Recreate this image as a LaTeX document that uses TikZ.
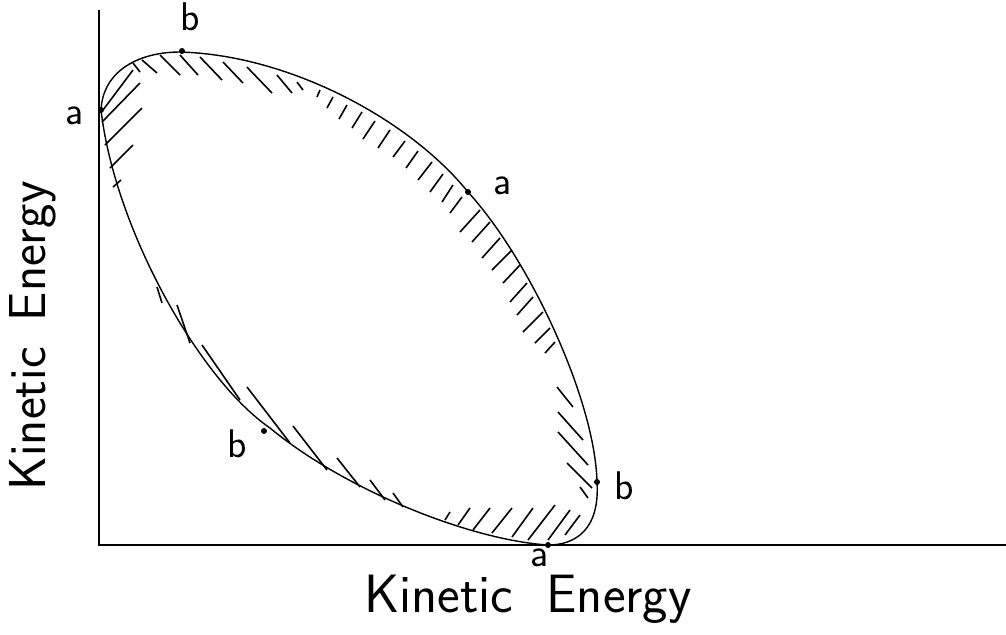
\documentclass[tikz,border=0pt]{standalone}
\usetikzlibrary{positioning}

\begin{document}
\begin{tikzpicture}[
  x=0.5pt, y=-0.5pt,
  axis/.style={line width=1pt},
  orbit/.style={line width=0.7pt},
  hatch/.style={line width=0.8pt},
  pt/.style={circle, fill, inner sep=0pt, minimum size=3pt},
  lbl/.style={font=\sffamily\fontsize{20}{20}\selectfont, inner sep=0pt},
  axlabel/.style={font=\sffamily\fontsize{27}{27}\selectfont, inner sep=0pt}]
\useasboundingbox (0,0) rectangle (1006,634);
\draw[axis] (99,10) -- (99,545) -- (1006,545);
\coordinate (ka) at (101,110);
\coordinate (kb) at (180,52);
\coordinate (kc) at (468,192);
\coordinate (kd) at (597,482);
\coordinate (ke) at (548,545);
\coordinate (kf) at (270,428);
\draw[orbit] (ka) .. controls (103,70) and (140,52) .. (kb)
  .. controls (290,55) and (410,120) .. (kc)
  .. controls (530,260) and (595,400) .. (kd)
  .. controls (600,530) and (575,545) .. (ke)
  .. controls (470,540) and (345,490) .. (kf)
  .. controls (200,380) and (115,230) .. (ka);
\foreach \xa/\ya/\xb/\yb in {
  103/110/133/70, 102/122/140/83, 105/145/142/108, 110/168/133/145, 113/187/121/180,
  133/63/140/72, 142/60/157/73, 160/55/180/75, 180/55/198/75, 200/57/222/80,
  223/62/243/83, 247/67/272/93, 277/75/292/93, 297/82/303/90,
  320/90/317/97, 333/97/327/108, 347/105/339/119, 362/112/352/128,
  375/121/363/139, 390/130/378/148, 405/141/393/157, 418/151/406/168,
  432/162/418/180, 443/174/430/192, 453/185/442/202, 462/197/450/213,
  480/210/460/232, 490/222/472/242, 500/238/482/258, 512/250/492/270,
  520/265/503/283, 527/283/510/302, 533/297/517/315, 543/312/523/332,
  550/328/535/343, 555/342/545/353,
  557/387/573/407, 558/412/583/440, 558/432/588/465, 567/463/592/488, 580/487/588/498,
  445/520/450/512, 458/525/470/508, 473/530/490/508, 492/533/512/508,
  512/537/533/508, 528/540/555/505, 548/540/570/510, 565/535/580/515,
  157/287/162/303, 177/305/190/343, 202/345/240/400, 247/387/290/443,
  293/426/327/470, 337/458/360/487, 370/480/385/500, 393/493/403/507}
  \draw[hatch] (\xa,\ya) -- (\xb,\yb);
\node[pt] (aleft) at (ka) {};
\node[pt] (btop) at (182,51) {};
\node[pt] (aright) at (kc) {};
\node[pt] (bright) at (kd) {};
\node[pt] (abottom) at (ke) {};
\node[pt] (blow) at (264,431) {};
\node[lbl, left=7pt of aleft, yshift=-3pt] (la1) {a};
\node[lbl, above=8pt of btop, xshift=4pt] (lb1) {b};
\node[lbl, right=11pt of aright, yshift=3pt] (la2) {a};
\node[lbl, right=7pt of bright, yshift=-2pt] (lb2) {b};
\node[lbl, below=0pt of abottom, xshift=-4pt] (la3) {a};
\node[lbl, below left=-2pt and 7pt of blow] (lb3) {b};
\node[axlabel, font=\sffamily\fontsize{26}{26}\selectfont, rotate=90, anchor=base]
  (ylab) at (46,336) {Kinetic\hspace{0.5em}Energy};
\node[axlabel, anchor=base] (xlab) at (528,612) {Kinetic\hspace{0.62em}Energy};
\end{tikzpicture}
\end{document}
